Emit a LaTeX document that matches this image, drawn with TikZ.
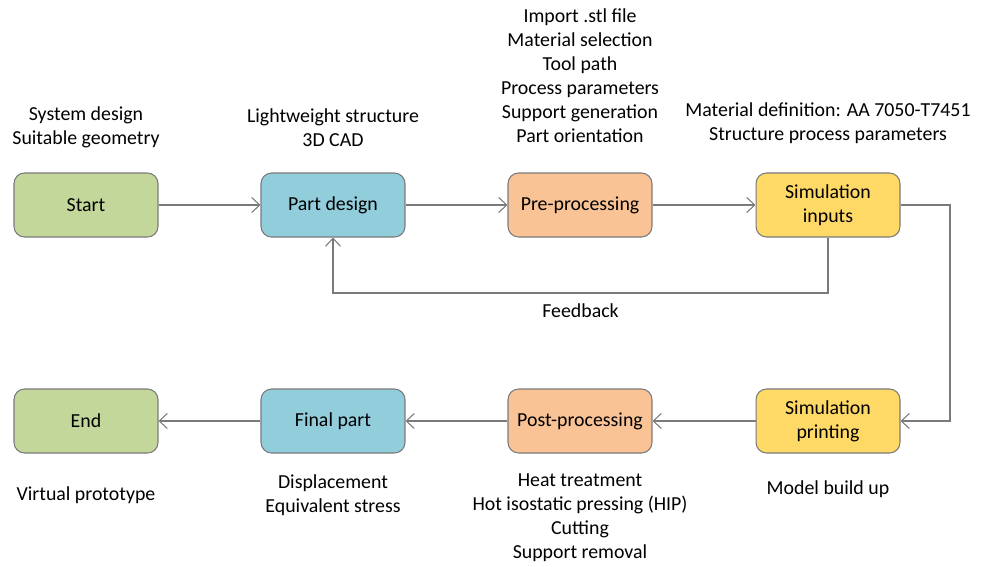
\documentclass[tikz,border=0pt]{standalone}
\usepackage{fontspec}
\setmainfont{Carlito}
\usetikzlibrary{arrows.meta, positioning}

\definecolor{boxgreen}{HTML}{C4D79B}
\definecolor{boxblue}{HTML}{92CDDC}
\definecolor{boxorange}{HTML}{FAC396}
\definecolor{boxyellow}{HTML}{FFD966}
\definecolor{linegray}{HTML}{7A7A7A}

\begin{document}
\begin{tikzpicture}[x=0.02cm, y=-0.02cm,
  box/.style={draw=linegray, rounded corners=6pt, minimum width=2.88cm, minimum height=1.28cm, align=center, font=\fontsize{11.3}{13.6}\selectfont, line width=0.6pt},
  note/.style={align=center, font=\fontsize{11.3}{13.6}\selectfont, inner sep=0pt},
  arrow/.style={-{Straight Barb[length=1.6mm, width=3mm]}, draw=linegray, line width=0.6pt}
]
  \useasboundingbox (0,0) rectangle (986,566);

  % top row
  \node[box, fill=boxgreen] (start) at (86, 205) {Start};
  \node[box, fill=boxblue] (design) at (333, 205) {Part design};
  \node[box, fill=boxorange] (pre) at (580, 205) {Pre-processing};
  \node[box, fill=boxyellow] (inputs) at (828, 205) {Simulation\\inputs};

  % bottom row
  \node[box, fill=boxgreen] (end) at (86, 421) {End};
  \node[box, fill=boxblue] (final) at (333, 421) {Final part};
  \node[box, fill=boxorange] (post) at (580, 421) {Post-processing};
  \node[box, fill=boxyellow] (printing) at (828, 421) {Simulation\\printing};

  % notes
  \node[note] (startnote) at (86, 127.5) {System design\\Suitable geometry};
  \node[note] (designnote) at (333, 127.5) {Lightweight structure\\3D CAD};
  \node[note] (prenote) at (580, 75.5) {Import .stl file\\Material selection\\Tool path\\Process parameters\\Support generation\\Part orientation};
  \node[note] (inputsnote) at (828, 123.5) {Material definition: AA 7050-T7451\\Structure process parameters};
  \node[note] (endnote) at (86, 495) {Virtual prototype};
  \node[note] (finalnote) at (333, 495) {Displacement\\Equivalent stress};
  \node[note] (postnote) at (580, 518) {Heat treatment\\Hot isostatic pressing (HIP)\\Cutting\\Support removal};
  \node[note] (printingnote) at (828, 489) {Model build up};

  \coordinate (turn) at (950, 205);
  \coordinate (fbright) at (828, 293);
  \coordinate (fbleft) at (333, 293);

  \draw[arrow] (start) -- (design);
  \draw[arrow] (design) -- (pre);
  \draw[arrow] (pre) -- (inputs);
  \draw[arrow] (inputs.east) -- (turn) |- (printing.east);
  \draw[arrow] (printing) -- (post);
  \draw[arrow] (post) -- (final);
  \draw[arrow] (final) -- (end);
  \draw[arrow] (inputs.south) -- (fbright) -- node[note, below=6pt] {Feedback} (fbleft) -- (design.south);
\end{tikzpicture}
\end{document}
